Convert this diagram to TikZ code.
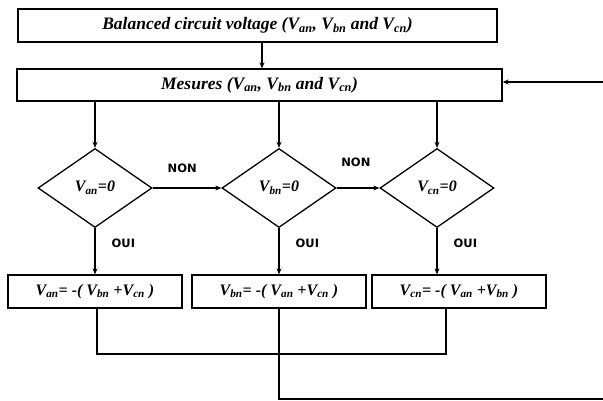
\documentclass[tikz,border=0pt]{standalone}
\usepackage{fontspec}
\setmainfont{Liberation Serif}
\setsansfont{DejaVu Sans}
\usetikzlibrary{shapes.geometric,arrows.meta}
\newcommand{\Vsub}[1]{V\textsubscript{#1}}
\begin{document}
\begin{tikzpicture}[x=1pt,y=-1pt,
  box/.style={draw, line width=1.3pt, rectangle, inner sep=0pt, minimum height=33pt,
    font=\bfseries\itshape\fontsize{17.5}{19}\selectfont},
  rbox/.style={box, minimum width=174pt, font=\bfseries\itshape\fontsize{16}{18}\selectfont},
  dec/.style={draw, diamond, line width=1.3pt, inner sep=0pt, minimum width=114pt, minimum height=79pt,
    font=\bfseries\itshape\fontsize{16}{18}\selectfont},
  conn/.style={line width=1.4pt},
  arr/.style={conn, -{Stealth[length=6pt,width=5pt]}},
  lab/.style={font=\sffamily\bfseries\fontsize{11.5}{12}\selectfont, inner sep=0pt}]
\useasboundingbox (0,0) rectangle (603,401);
\fill[white] (0,0) rectangle (603,401);

\node[box, minimum width=479pt] (top) at (257.5,25.5) {Balanced circuit voltage (\Vsub{an}, \Vsub{bn} and \Vsub{cn})};
\node[box, minimum width=485pt, minimum height=32pt] (mes) at (259.5,85) {Mesures (\Vsub{an}, \Vsub{bn} and \Vsub{cn})};

\node[dec] (d1) at (95,188) {\Vsub{an}=0};
\node[dec] (d2) at (279,188) {\Vsub{bn}=0};
\node[dec] (d3) at (437,188) {\Vsub{cn}=0};

\node[rbox] (r1) at (95,291.5) {\Vsub{an}= -( \Vsub{bn} +\Vsub{cn} )};
\node[rbox] (r2) at (279,291.5) {\Vsub{bn}= -( \Vsub{an} +\Vsub{cn} )};
\node[rbox] (r3) at (459,291.5) {\Vsub{cn}= -( \Vsub{an} +\Vsub{bn} )};

\draw[arr] (top.south -| 262,0) -- (mes.north -| 262,0);

\draw[arr] (mes.south -| d1.north) -- (d1.north);
\draw[arr] (mes.south -| d2.north) -- (d2.north);
\draw[arr] (mes.south -| d3.north) -- (d3.north);

\draw[arr] (d1.east) -- node[lab, pos=0.43, yshift=20pt] {NON} (d2.west);
\draw[arr] (d2.east) -- node[lab, pos=0.45, yshift=26pt] {NON} (d3.west);

\draw[arr] (d1.south) -- node[lab, anchor=west, xshift=16pt, pos=0.33] {OUI} (d1.south |- r1.north);
\draw[arr] (d2.south) -- node[lab, anchor=west, xshift=16pt, pos=0.33] {OUI} (d2.south |- r2.north);
\draw[arr] (d3.south) -- node[lab, anchor=west, xshift=16pt, pos=0.33] {OUI} (d3.south |- r3.north);

\coordinate (c1) at (97,308);
\coordinate (c3) at (446,308);
\coordinate (j) at (97,354);
\draw[conn] (c1) -- (j) -| (c3);

\coordinate (fb1) at (610,399);
\coordinate (fb2) at (610,82);
\draw[arr] (r2.south) |- (fb1) -- (fb2) -- (mes.east |- fb2);
\end{tikzpicture}
\end{document}
